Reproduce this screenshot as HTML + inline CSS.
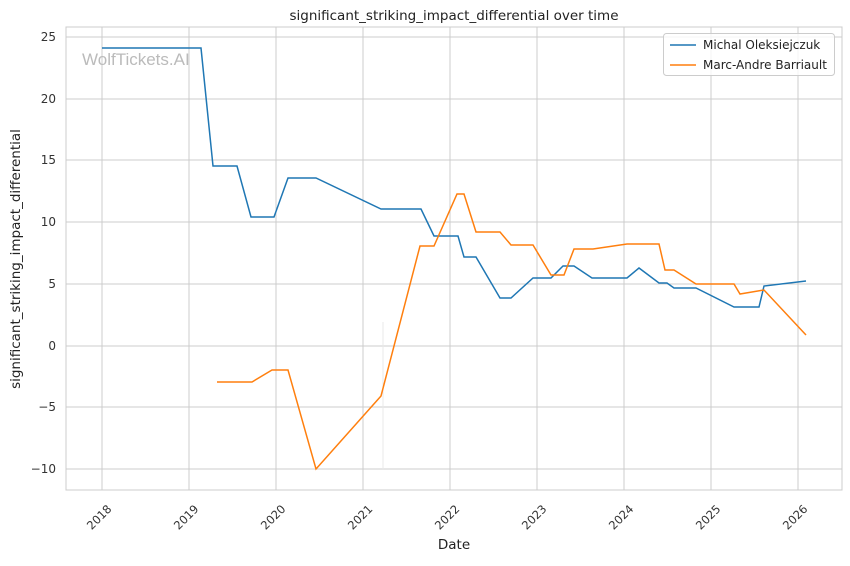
<!DOCTYPE html>
<html><head><style>body{margin:0;background:#fff}</style></head><body>
<svg width="850" height="561" xmlns="http://www.w3.org/2000/svg" font-family="DejaVu Sans, Liberation Sans, sans-serif">
<rect width="850" height="561" fill="#fff"/>
<g stroke="#cccccc" stroke-width="1">
<line x1="102" y1="27" x2="102" y2="490"/><line x1="189" y1="27" x2="189" y2="490"/><line x1="276" y1="27" x2="276" y2="490"/><line x1="363" y1="27" x2="363" y2="490"/><line x1="450" y1="27" x2="450" y2="490"/><line x1="537" y1="27" x2="537" y2="490"/><line x1="624" y1="27" x2="624" y2="490"/><line x1="711" y1="27" x2="711" y2="490"/><line x1="798" y1="27" x2="798" y2="490"/>
<line x1="66" y1="37" x2="842" y2="37"/><line x1="66" y1="99" x2="842" y2="99"/><line x1="66" y1="160" x2="842" y2="160"/><line x1="66" y1="222" x2="842" y2="222"/><line x1="66" y1="284" x2="842" y2="284"/><line x1="66" y1="346" x2="842" y2="346"/><line x1="66" y1="407" x2="842" y2="407"/><line x1="66" y1="469" x2="842" y2="469"/>
</g>
<rect x="66" y="27" width="776" height="463" fill="none" stroke="#cccccc"/>
<line x1="383" y1="322" x2="383" y2="470" stroke="#e8e8e8"/>
<text x="82" y="65" font-size="17" fill="#bbbbbb" font-family="Liberation Sans, sans-serif">WolfTickets.AI</text>
<polyline fill="none" stroke="#1f77b4" stroke-width="1.5" points="102,48 201,48 213,166 237,166 251,217 274,217 288,178 316,178 381,209 421,209 434,236 458,236 464,257 476,257 500,298 511,298 533,278 551,278 563,266 574,266 592,278 627,278 639,268 659,283 667,283 674,288 696,288 734,307 759,307 764,286 806,281"/>
<polyline fill="none" stroke="#ff7f0e" stroke-width="1.5" points="217,382 252,382 272,370 288,370 316,469 381,396 420,246 434,246 457,194 464,194 476,232 500,232 511,245 533,245 551,275 564,275 574,249 593,249 627,244 659,244 665,270 674,270 696,284 734,284 740,294 764,290 806,335"/>
<g font-size="12" fill="#333" text-anchor="end">
<text x="56" y="41">25</text><text x="56" y="103">20</text><text x="56" y="164">15</text><text x="56" y="226">10</text><text x="56" y="288">5</text><text x="56" y="350">0</text><text x="56" y="411">−5</text><text x="56" y="473">−10</text>
</g>
<g font-size="11.5" fill="#333" text-anchor="middle">
<text transform="translate(102,520) rotate(-45)">2018</text><text transform="translate(189,520) rotate(-45)">2019</text><text transform="translate(276,520) rotate(-45)">2020</text><text transform="translate(363,520) rotate(-45)">2021</text><text transform="translate(450,520) rotate(-45)">2022</text><text transform="translate(537,520) rotate(-45)">2023</text><text transform="translate(624,520) rotate(-45)">2024</text><text transform="translate(711,520) rotate(-45)">2025</text><text transform="translate(798,520) rotate(-45)">2026</text>
</g>
<text x="454" y="549" font-size="13.5" fill="#222" text-anchor="middle">Date</text>
<text transform="translate(20,259) rotate(-90)" font-size="13.5" fill="#222" text-anchor="middle">significant_striking_impact_differential</text>
<text x="454" y="20" font-size="13.5" fill="#222" text-anchor="middle">significant_striking_impact_differential over time</text>
<rect x="663.5" y="33.5" width="171" height="42" rx="3" fill="#fff" fill-opacity="0.8" stroke="#cccccc"/>
<line x1="670" y1="45" x2="696" y2="45" stroke="#1f77b4" stroke-width="1.5"/>
<line x1="670" y1="65" x2="696" y2="65" stroke="#ff7f0e" stroke-width="1.5"/>
<text x="703" y="49" font-size="12" fill="#222">Michal Oleksiejczuk</text>
<text x="703" y="69" font-size="12" fill="#222">Marc-Andre Barriault</text>
</svg>
</body></html>
